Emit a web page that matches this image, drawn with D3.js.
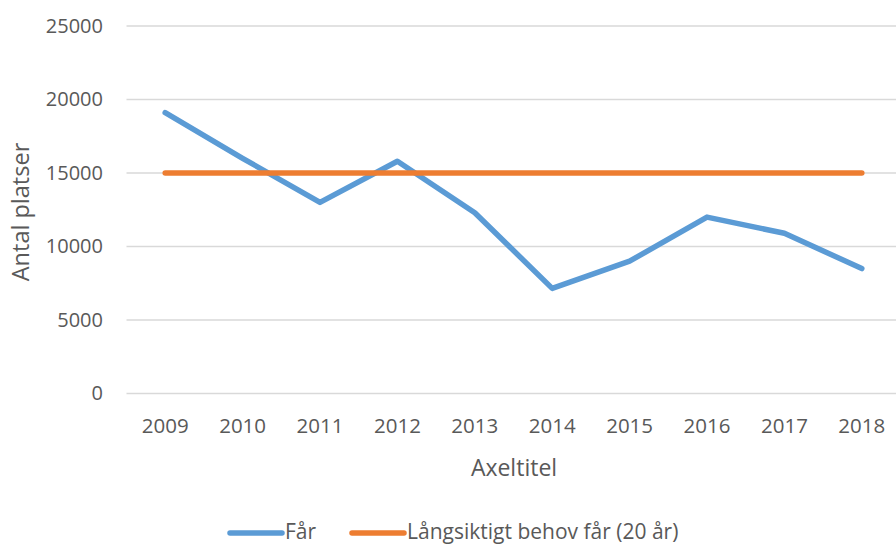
<!DOCTYPE html>
<html>
<head>
<meta charset="utf-8">
<script src="https://cdn.jsdelivr.net/npm/d3@7"></script>
<style>
  body { margin: 0; background: #fff; }
  text { font-family: "Open Sans", sans-serif; fill: #595959; }
</style>
</head>
<body>
<svg id="chart" width="896" height="544"></svg>
<script>
const years = ["2009","2010","2011","2012","2013","2014","2015","2016","2017","2018"];
const far = [19100, 16000, 13000, 15800, 12300, 7150, 9000, 12000, 10900, 8500];
const behov = [15000, 15000, 15000, 15000, 15000, 15000, 15000, 15000, 15000, 15000];
const yTicks = [0, 5000, 10000, 15000, 20000, 25000];
const seriesNames = ["Får", "Långsiktigt behov får (20 år)"];
const colors = ["#5B9BD5", "#ED7D31"];

let margin = {top: 26, right: 0, bottom: 150.5, left: 126.5};
let width = 900.5 - margin.left, height = 544 - margin.top - margin.bottom;

let svg = d3.select("#chart");
let g = svg.append("g").attr("transform", "translate(" + margin.left + "," + margin.top + ")");

let x = d3.scaleBand().domain(years).range([0, width]);
let y = d3.scaleLinear().domain([0, 25000]).range([height, 0]);

// gridlines
g.append("g")
    .selectAll("line")
    .data(yTicks)
    .enter()
    .append("line")
    .attr("x1", 0)
    .attr("x2", width)
    .attr("y1", d => y(d))
    .attr("y2", d => y(d))
    .style("stroke", "#D9D9D9")
    .style("stroke-width", 1.3);

let yAxis = g.append("g").call(d3.axisLeft(y).tickValues(yTicks).tickSize(0).tickPadding(23.5).tickFormat(d => d));
yAxis.select(".domain").remove();
yAxis.selectAll("text").style("font-size", "20px").style("fill", "#595959").style("font-family", "Open Sans");

let xAxis = g.append("g").attr("transform", "translate(0," + height + ")")
    .call(d3.axisBottom(x).tickSize(0).tickPadding(25));
xAxis.select(".domain").remove();
xAxis.selectAll("text").style("font-size", "20.5px").style("fill", "#595959").style("font-family", "Open Sans");

let line = d3.line().x((d, i) => x(years[i]) + x.bandwidth() / 2).y(d => y(d));

[far, behov].forEach(function(s, i){
    g.append("path")
        .datum(s)
        .attr("d", line)
        .style("fill", "none")
        .style("stroke", colors[i])
        .style("stroke-width", 5.5)
        .style("stroke-linecap", "round")
        .style("stroke-linejoin", "round");
});

svg.append("text")
    .attr("transform", "rotate(-90)")
    .attr("x", -212)
    .attr("y", 29)
    .style("text-anchor", "middle")
    .style("font-size", "23.5px")
    .text("Antal platser");

svg.append("text")
    .attr("x", 514)
    .attr("y", 476)
    .style("text-anchor", "middle")
    .style("font-size", "23px")
    .text("Axeltitel");

// legend
let legendX = [230, 352];
seriesNames.forEach(function(name, i){
    let lg = svg.append("g").attr("transform", "translate(" + legendX[i] + ",533)");
    lg.append("line").attr("x1", 0).attr("x2", 52).attr("y1", 0).attr("y2", 0)
        .style("stroke", colors[i]).style("stroke-width", 5.5).style("stroke-linecap", "round");
    lg.append("text").attr("x", 55).attr("y", 6).style("font-size", "21px").text(name);
});
</script>
</body>
</html>
